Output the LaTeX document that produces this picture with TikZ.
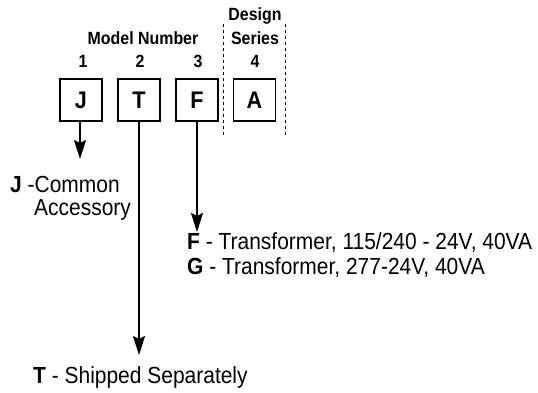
\documentclass[tikz,border=0pt]{standalone}
\usepackage{fontspec}
\setmainfont{Liberation Sans}[FakeStretch=0.9]
\usetikzlibrary{arrows.meta, positioning}

\begin{document}
\begin{tikzpicture}[
    x=1pt, y=-1pt,
    >={Stealth[length=19pt, width=12pt, inset=3pt]},
    digit/.style={draw, line width=1.8pt, minimum size=42pt, inner sep=0pt,
      font=\fontsize{24}{26}\selectfont\bfseries},
    head/.style={font=\fontsize{17.7}{19}\selectfont\bfseries},
    desc/.style={anchor=west, inner sep=0pt, align=left,
      font=\fontsize{23.3}{23}\selectfont},
    lead/.style={->, line width=1.8pt}
  ]
  \useasboundingbox (0,0) rectangle (538,392);

  % Headings
  \node[head] (design) at (255,16) {Design};
  \node[head] (series) at (255,38) {Series};
  \node[head] (model)  at (143,38) {Model Number};
  \node[head] (n1) at (83,61)  {1};
  \node[head] (n2) at (140,61) {2};
  \node[head] (n3) at (198,61) {3};
  \node[head] (n4) at (255,61) {4};

  % Boxes
  \node[digit] (J) at (81,100)  {J};
  \node[digit] (T) at (139,100) {T};
  \node[digit] (F) at (197,100) {F};
  \node[digit] (A) at (254.5,100) {A};

  % Design series frame
  \coordinate (d1) at (223,24);
  \coordinate (d2) at (223,135);
  \coordinate (d3) at (285,24);
  \coordinate (d4) at (285,135);
  \draw[dashed, line width=0.8pt] (d1) -- (d2);
  \draw[dashed, line width=0.8pt] (d3) -- (d4);

  % Arrow ends
  \coordinate (jend) at (80,159);
  \coordinate (tend) at (139,355);
  \coordinate (fend) at (197,232);
  \draw[lead] (J.south -| jend) -- (jend);
  \draw[lead] (T) -- (tend);
  \draw[lead] (F) -- (fend);

  % Descriptions
  \node[desc] (jtxt) at (10,198) {\textbf{J} -Common\\\hspace*{24pt}Accessory};
  \node[desc] (ftxt) at (187,243) {\textbf{F} - Transformer, 115/240 - 24V, 40VA};
  \node[desc] (gtxt) at (187,268) {\textbf{G} - Transformer, 277-24V, 40VA};
  \node[desc] (ttxt) at (33,377) {\textbf{T} - Shipped Separately};
\end{tikzpicture}
\end{document}
